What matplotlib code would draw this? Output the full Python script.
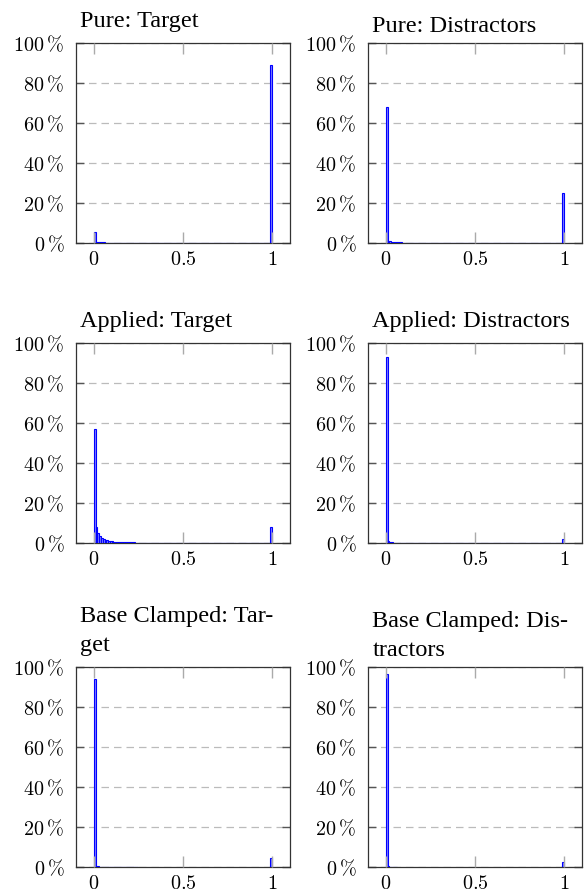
import numpy as np
import matplotlib
matplotlib.use("Agg")
import matplotlib.pyplot as plt

plt.rcParams["mathtext.fontset"] = "cm"
plt.rcParams["font.family"] = ["Liberation Serif", "DejaVu Serif"]

# percentage of samples per bin, 100 bins on [0, 1]
pure_target = [
    5.5, 0.6, 0.45, 0.38, 0.32, 0.28, 0.25, 0.22, 0.2, 0.18,
    0.17, 0.16, 0.15, 0.14, 0.13, 0.12, 0.12, 0.11, 0.11, 0.1,
    0.1, 0.09, 0.09, 0.09, 0.08, 0.08, 0.08, 0.08, 0.07, 0.07,
    0.07, 0.07, 0.07, 0.06, 0.06, 0.06, 0.06, 0.06, 0.06, 0.06,
    0.05, 0.05, 0.05, 0.05, 0.05, 0.05, 0.05, 0.05, 0.05, 0.05,
    0.05, 0.05, 0.05, 0.05, 0.05, 0.04, 0.04, 0.04, 0.04, 0.04,
    0.04, 0.04, 0.04, 0.04, 0.04, 0.04, 0.04, 0.04, 0.04, 0.04,
    0.04, 0.04, 0.04, 0.04, 0.04, 0.04, 0.04, 0.04, 0.04, 0.04,
    0.04, 0.04, 0.04, 0.04, 0.04, 0.05, 0.05, 0.05, 0.05, 0.05,
    0.05, 0.05, 0.05, 0.06, 0.06, 0.07, 0.08, 0.1, 0.15, 89.0,
]
pure_distractors = [
    68.0, 1.2, 0.8, 0.6, 0.5, 0.42, 0.36, 0.32, 0.28, 0.25,
    0.22, 0.2, 0.18, 0.16, 0.15, 0.14, 0.13, 0.12, 0.11, 0.1,
    0.1, 0.09, 0.09, 0.08, 0.08, 0.08, 0.07, 0.07, 0.07, 0.06,
    0.06, 0.06, 0.06, 0.06, 0.06, 0.05, 0.05, 0.05, 0.05, 0.05,
    0.05, 0.05, 0.05, 0.05, 0.05, 0.05, 0.05, 0.04, 0.04, 0.04,
    0.04, 0.04, 0.04, 0.04, 0.04, 0.04, 0.04, 0.04, 0.04, 0.04,
    0.04, 0.04, 0.04, 0.04, 0.04, 0.04, 0.04, 0.04, 0.04, 0.04,
    0.04, 0.04, 0.04, 0.04, 0.04, 0.04, 0.04, 0.04, 0.04, 0.04,
    0.04, 0.04, 0.04, 0.04, 0.04, 0.04, 0.05, 0.05, 0.05, 0.05,
    0.05, 0.05, 0.05, 0.06, 0.06, 0.07, 0.08, 0.1, 0.2, 25.0,
]
applied_target = [
    57.0, 8.2, 5.0, 3.3, 2.5, 2.0, 1.6, 1.3, 1.1, 0.9,
    0.8, 0.7, 0.62, 0.55, 0.5, 0.45, 0.41, 0.38, 0.35, 0.32,
    0.3, 0.28, 0.26, 0.24, 0.23, 0.22, 0.21, 0.2, 0.19, 0.18,
    0.17, 0.16, 0.16, 0.15, 0.15, 0.14, 0.14, 0.13, 0.13, 0.12,
    0.12, 0.12, 0.11, 0.11, 0.11, 0.1, 0.1, 0.1, 0.1, 0.1,
    0.09, 0.09, 0.09, 0.09, 0.09, 0.09, 0.09, 0.09, 0.09, 0.09,
    0.09, 0.09, 0.09, 0.08, 0.08, 0.08, 0.08, 0.08, 0.08, 0.08,
    0.08, 0.08, 0.08, 0.08, 0.08, 0.08, 0.08, 0.08, 0.08, 0.08,
    0.08, 0.08, 0.08, 0.08, 0.08, 0.08, 0.08, 0.08, 0.08, 0.08,
    0.08, 0.08, 0.08, 0.08, 0.09, 0.09, 0.1, 0.12, 0.15, 8.0,
]
applied_distractors = [
    93.0, 1.0, 0.45, 0.3, 0.22, 0.18, 0.15, 0.13, 0.11, 0.1,
    0.09, 0.08, 0.08, 0.07, 0.07, 0.06, 0.06, 0.06, 0.05, 0.05,
    0.05, 0.05, 0.05, 0.05, 0.05, 0.05, 0.05, 0.04, 0.04, 0.04,
    0.04, 0.04, 0.04, 0.04, 0.04, 0.04, 0.04, 0.04, 0.04, 0.04,
    0.04, 0.04, 0.04, 0.04, 0.04, 0.04, 0.04, 0.04, 0.04, 0.04,
    0.04, 0.04, 0.04, 0.04, 0.04, 0.04, 0.04, 0.04, 0.04, 0.04,
    0.04, 0.04, 0.04, 0.04, 0.04, 0.04, 0.04, 0.04, 0.04, 0.04,
    0.04, 0.04, 0.04, 0.04, 0.04, 0.04, 0.04, 0.04, 0.04, 0.04,
    0.04, 0.04, 0.04, 0.04, 0.04, 0.04, 0.04, 0.04, 0.04, 0.04,
    0.04, 0.04, 0.04, 0.04, 0.04, 0.05, 0.05, 0.06, 0.1, 2.0,
]
base_target = [
    94.0, 0.6, 0.3, 0.2, 0.15, 0.12, 0.1, 0.09, 0.08, 0.07,
    0.06, 0.06, 0.05, 0.05, 0.04, 0.04, 0.04, 0.03, 0.03, 0.03,
    0.03, 0.03, 0.02, 0.02, 0.02, 0, 0, 0, 0, 0,
    0, 0, 0, 0, 0, 0, 0, 0, 0, 0,
    0, 0, 0, 0, 0, 0, 0, 0, 0, 0,
    0, 0, 0, 0, 0, 0, 0, 0, 0, 0,
    0, 0, 0, 0, 0, 0, 0, 0, 0, 0,
    0, 0, 0, 0, 0, 0, 0, 0, 0, 0,
    0, 0, 0, 0, 0, 0, 0, 0, 0, 0,
    0, 0, 0, 0, 0, 0, 0, 0, 0.05, 4.5,
]
base_distractors = [
    96.5, 0.35, 0.15, 0.1, 0.08, 0.06, 0, 0, 0, 0,
    0, 0, 0, 0, 0, 0, 0, 0, 0, 0,
    0, 0, 0, 0, 0, 0, 0, 0, 0, 0,
    0, 0, 0, 0, 0, 0, 0, 0, 0, 0,
    0, 0, 0, 0, 0, 0, 0, 0, 0, 0,
    0, 0, 0, 0, 0, 0, 0, 0, 0, 0,
    0, 0, 0, 0, 0, 0, 0, 0, 0, 0,
    0, 0, 0, 0, 0, 0, 0, 0, 0, 0,
    0, 0, 0, 0, 0, 0, 0, 0, 0, 0,
    0, 0, 0, 0, 0, 0, 0, 0, 0.05, 2.5,
]

panels = [
    ("Pure: Target", pure_target),
    ("Pure: Distractors", pure_distractors),
    ("Applied: Target", applied_target),
    ("Applied: Distractors", applied_distractors),
    ("Base Clamped: Tar-\nget", base_target),
    ("Base Clamped: Dis-\ntractors", base_distractors),
]

y_ticks = [0, 20, 40, 60, 80, 100]
x_ticks = [0, 0.5, 1]
x_tick_labels = ["$0$", "$0.5$", "$1$"]
y_tick_labels = [r"$%d\,\%%$" % v for v in y_ticks]

bin_edges = np.linspace(0, 1, 101)

# layout in pixels
W, H = 584, 892
col_left = [76, 368]
row_top = [43, 343, 667]
ax_w, ax_h = 214, 200

fig = plt.figure(figsize=(W / 100, H / 100), dpi=100)

for i, (title, vals) in enumerate(panels):
    r, c = divmod(i, 2)
    ax = fig.add_axes([col_left[c] / W, 1 - (row_top[r] + ax_h) / H, ax_w / W, ax_h / H])
    vals = np.array(vals, dtype=float)
    keep = vals > 0
    ax.bar(bin_edges[:-1][keep], vals[keep], width=0.01, align="edge",
           facecolor="#8080ff", edgecolor="blue", linewidth=0.8, zorder=2.6)
    ax.set_xlim(-0.1, 1.1)
    ax.set_ylim(0, 100)
    ax.set_xticks(x_ticks)
    ax.set_xticklabels(x_tick_labels)
    ax.set_yticks(y_ticks)
    ax.set_yticklabels(y_tick_labels)
    ax.tick_params(axis="x", direction="in", top=True, length=8, width=1,
                   color="#aaaaaa", pad=5.5, labelsize=14.5)
    ax.tick_params(axis="y", direction="in", right=True, length=6, width=1,
                   color="#555555", pad=8.5, labelsize=14.5)
    ax.xaxis.set_zorder(3)
    ax.yaxis.grid(True, linestyle=(0, (6, 4)), color="#bbbbbb", linewidth=0.9)
    for s in ax.spines.values():
        s.set_color("#333333")
        s.set_linewidth(0.9)
    # like the LaTeX title box: text without descenders sits a bit lower
    last_line = title.split("\n")[-1]
    title_y = 1.055 if set(last_line) & set("gjpqy") else 1.03
    ax.text(0.02, title_y, title, transform=ax.transAxes, ha="left", va="bottom",
            fontsize=17.5, linespacing=1.5)

fig.savefig("out.png", dpi=100)
